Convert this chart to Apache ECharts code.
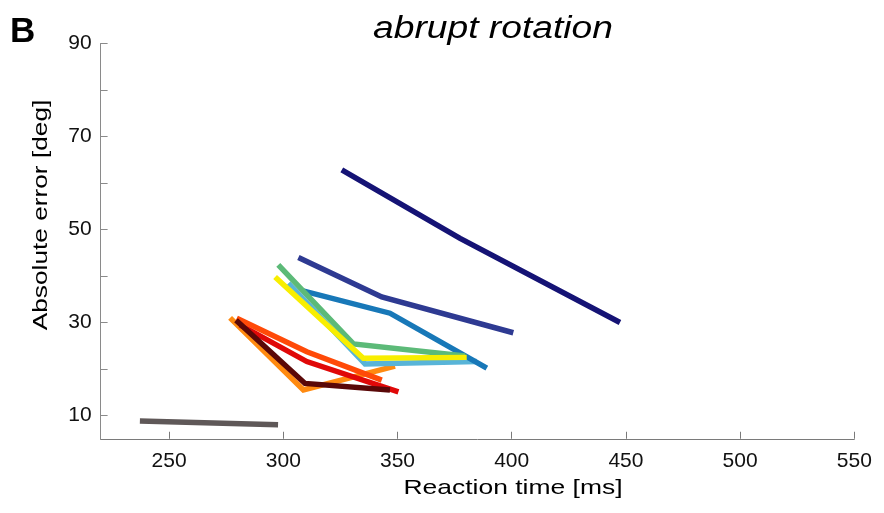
<!DOCTYPE html>
<html>
<head>
<meta charset="utf-8">
<script src="https://cdn.jsdelivr.net/npm/echarts@6/dist/echarts.min.js"></script>
<style>html,body{margin:0;padding:0;background:#fff;}#c{width:884px;height:513px;}</style>
</head>
<body>
<div id="c"></div>
<script>
// Reaction time [ms] (x) and absolute error [deg] (y) for each group
const rtGray = [237.2, 297.7];           const errGray = [8.8, 8.0];
const rtOrange = [276.7, 308.8, 348.9];  const errOrange = [31.0, 15.5, 20.6];
const rtRed = [281.0, 310.3, 350.4];     const errRed = [29.5, 21.6, 15.1];
const rtOrangeRed = [279.6, 310.3, 343.1]; const errOrangeRed = [30.9, 23.7, 17.6];
const rtBrown = [279.3, 309.5, 346.7];   const errBrown = [30.5, 16.9, 15.5];
const rtLightBlue = [302.2, 335.8, 384.7]; const errLightBlue = [38.4, 21.1, 21.6];
const rtBlue = [308.6, 346.7, 389.1];    const errBlue = [36.8, 32.0, 20.2];
const rtGreen = [297.8, 330.7, 379.6];   const errGreen = [42.4, 25.4, 22.8];
const rtYellow = [296.4, 335.0, 380.3];  const errYellow = [39.8, 22.3, 22.5];
const rtNavy = [306.6, 343.1, 400.7];    const errNavy = [44.0, 35.5, 27.8];
const rtDarkNavy = [325.6, 377.4, 447.4]; const errDarkNavy = [62.8, 48.1, 30.0];

const xTicks = [250, 300, 350, 400, 450, 500, 550];
const yTicks = [10, 20, 30, 40, 50, 60, 70, 80, 90];
const yTickLabels = [10, 30, 50, 70, 90];

const groups = [
  [rtGray, errGray, '#5f5858'],
  [rtOrange, errOrange, '#ff8a10'],
  [rtRed, errRed, '#e00808'],
  [rtOrangeRed, errOrangeRed, '#ff4a08'],
  [rtBrown, errBrown, '#5a0808'],
  [rtLightBlue, errLightBlue, '#58b4d8'],
  [rtBlue, errBlue, '#1878b8'],
  [rtGreen, errGreen, '#5cba78'],
  [rtYellow, errYellow, '#f8ee00'],
  [rtNavy, errNavy, '#2e3a92'],
  [rtDarkNavy, errDarkNavy, '#151375']
];

const series = groups.map(function (g, i) {
  return {
    type: 'line',
    data: g[0].map(function (x, k) { return [x, g[1][k]]; }),
    showSymbol: false,
    symbol: 'none',
    z: 2 + i,
    lineStyle: { color: g[2], width: 5.5, cap: 'butt', join: 'miter' },
    silent: true
  };
});

const font = '"Liberation Sans", Arial, Helvetica, sans-serif';
const chart = echarts.init(document.getElementById('c'));
chart.setOption({
  animation: false,
  backgroundColor: '#ffffff',
  grid: { left: 100.6, width: 753.7, top: 43.5, height: 395.25 },
  xAxis: {
    type: 'value', min: 220, max: 550,
    axisLine: { show: true, lineStyle: { color: '#7a7a7a', width: 1 } },
    axisTick: { show: true, inside: true, length: 7, customValues: xTicks, lineStyle: { color: '#7a7a7a' } },
    axisLabel: { customValues: xTicks, color: '#111', fontSize: 21, fontFamily: font, margin: 12 },
    splitLine: { show: false }
  },
  yAxis: {
    type: 'value', min: 5, max: 90,
    axisLine: { show: true, lineStyle: { color: '#8a8a8a', width: 1 } },
    axisTick: { show: true, inside: true, length: 7, customValues: yTicks, lineStyle: { color: '#8a8a8a' } },
    axisLabel: { customValues: yTickLabels, color: '#111', fontSize: 21, fontFamily: font, margin: 9 },
    splitLine: { show: false }
  },
  graphic: [
    { type: 'text', x: 10, y: 32.5,
      style: { text: 'B', font: 'bold 35px ' + font, fill: '#000', align: 'left', verticalAlign: 'middle' } },
    { type: 'text', x: 493, y: 29.4, scaleX: 1.2,
      style: { text: 'abrupt rotation', font: 'italic 31px ' + font, fill: '#000', align: 'center', verticalAlign: 'middle' } },
    { type: 'text', x: 41.5, y: 215, rotation: Math.PI / 2, scaleX: 1.25,
      style: { text: 'Absolute error [deg]', font: '21px ' + font, fill: '#000', align: 'center', verticalAlign: 'middle' } },
    { type: 'text', x: 513, y: 488.5, scaleX: 1.26,
      style: { text: 'Reaction time [ms]', font: '21px ' + font, fill: '#000', align: 'center', verticalAlign: 'middle' } }
  ],
  series: series
});
</script>
</body>
</html>
